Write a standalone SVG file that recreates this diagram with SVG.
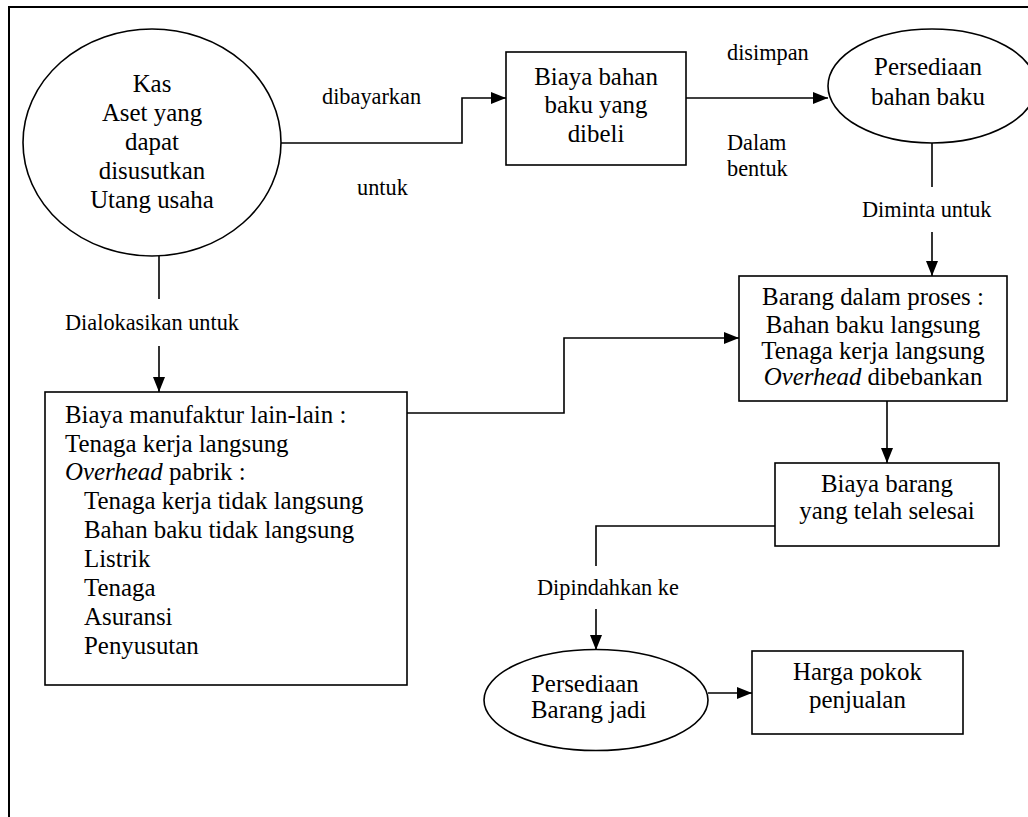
<svg xmlns="http://www.w3.org/2000/svg" width="1028" height="817" viewBox="0 0 1028 817">
  <style>
    .shape { fill: #fff; stroke: #000; stroke-width: 1.6; }
    .edge { fill: none; stroke: #000; stroke-width: 1.6; }
    text { font-family: 'Liberation Serif', Tinos, 'DejaVu Serif', serif; fill: #000; }
    .node { font-size: 24.9px; }
    .label { font-size: 22.3px; }
    .mid { text-anchor: middle; }
  </style>
  <defs>
    <marker id="arrow" markerUnits="userSpaceOnUse" markerWidth="15" markerHeight="12" refX="15" refY="6" orient="auto">
      <path d="M0,0 L15,6 L0,12 z" fill="#000"/>
    </marker>
  </defs>

  <rect width="1028" height="817" fill="#fff"/>

  <!-- page frame -->
  <g id="frame">
    <path d="M9,817 L9,7 L1028,7" fill="none" stroke="#000" stroke-width="2"/>
  </g>

  <!-- connectors -->
  <g id="connectors">
    <path class="edge" d="M281,143 L462,143 L462,98 L506,98" marker-end="url(#arrow)"/>
    <path class="edge" d="M686,98 L828,98" marker-end="url(#arrow)"/>
    <path class="edge" d="M932,143 L932,187"/>
    <path class="edge" d="M932,232 L932,276" marker-end="url(#arrow)"/>
    <path class="edge" d="M159,256 L159,299"/>
    <path class="edge" d="M159,346 L159,392" marker-end="url(#arrow)"/>
    <path class="edge" d="M407,413 L564,413 L564,338 L739,338" marker-end="url(#arrow)"/>
    <path class="edge" d="M887,401 L887,463" marker-end="url(#arrow)"/>
    <path class="edge" d="M775,526 L596,526 L596,566"/>
    <path class="edge" d="M596,609 L596,650" marker-end="url(#arrow)"/>
    <path class="edge" d="M708,693 L752,693" marker-end="url(#arrow)"/>
  </g>

  <!-- connector labels -->
  <g id="labels">
    <text class="label" x="322" y="104">dibayarkan</text>
    <text class="label" x="357" y="195">untuk</text>
    <text class="label" x="727" y="60">disimpan</text>
    <text class="label" x="727" y="150">Dalam</text>
    <text class="label" x="727" y="176">bentuk</text>
    <text class="label" x="862" y="217">Diminta untuk</text>
    <text class="label" x="65" y="330">Dialokasikan untuk</text>
    <text class="label" x="537" y="595">Dipindahkan ke</text>
  </g>

  <g id="kas">
    <ellipse class="shape" cx="152" cy="142.5" rx="129" ry="113.5"/>
    <text class="node mid" x="152" y="92">Kas</text>
    <text class="node mid" x="152" y="121">Aset yang</text>
    <text class="node mid" x="152" y="150">dapat</text>
    <text class="node mid" x="152" y="179">disusutkan</text>
    <text class="node mid" x="152" y="208">Utang usaha</text>
  </g>

  <g id="biaya-bahan-baku">
    <rect class="shape" x="506" y="52" width="180" height="113"/>
    <text class="node mid" x="596" y="85">Biaya bahan</text>
    <text class="node mid" x="596" y="113">baku yang</text>
    <text class="node mid" x="596" y="142">dibeli</text>
  </g>

  <g id="persediaan-bahan-baku">
    <ellipse class="shape" cx="932" cy="86" rx="104" ry="57"/>
    <text class="node mid" x="928" y="75">Persediaan</text>
    <text class="node mid" x="928" y="105">bahan baku</text>
  </g>

  <g id="biaya-manufaktur">
    <rect class="shape" x="45" y="392" width="362" height="293"/>
    <text class="node" x="65" y="423">Biaya manufaktur lain-lain :</text>
    <text class="node" x="65" y="452">Tenaga kerja langsung</text>
    <text class="node" x="65" y="480"><tspan font-style="italic">Overhead</tspan> pabrik :</text>
    <text class="node" x="84" y="509">Tenaga kerja tidak langsung</text>
    <text class="node" x="84" y="538">Bahan baku tidak langsung</text>
    <text class="node" x="84" y="567">Listrik</text>
    <text class="node" x="84" y="596">Tenaga</text>
    <text class="node" x="84" y="625">Asuransi</text>
    <text class="node" x="84" y="654">Penyusutan</text>
  </g>

  <g id="barang-dalam-proses">
    <rect class="shape" x="739" y="276" width="268" height="125"/>
    <text class="node mid" x="873" y="305">Barang dalam proses :</text>
    <text class="node mid" x="873" y="333">Bahan baku langsung</text>
    <text class="node mid" x="873" y="359">Tenaga kerja langsung</text>
    <text class="node mid" x="873" y="385"><tspan font-style="italic">Overhead</tspan> dibebankan</text>
  </g>

  <g id="biaya-barang-selesai">
    <rect class="shape" x="775" y="463" width="224" height="83"/>
    <text class="node mid" x="887" y="492">Biaya barang</text>
    <text class="node mid" x="887" y="519">yang telah selesai</text>
  </g>

  <g id="persediaan-barang-jadi">
    <ellipse class="shape" cx="596" cy="700" rx="112" ry="50.5"/>
    <text class="node" x="531" y="692">Persediaan</text>
    <text class="node" x="531" y="718">Barang jadi</text>
  </g>

  <g id="harga-pokok-penjualan">
    <rect class="shape" x="752" y="651" width="211" height="83"/>
    <text class="node mid" x="857.5" y="680">Harga pokok</text>
    <text class="node mid" x="857.5" y="708">penjualan</text>
  </g>
</svg>
